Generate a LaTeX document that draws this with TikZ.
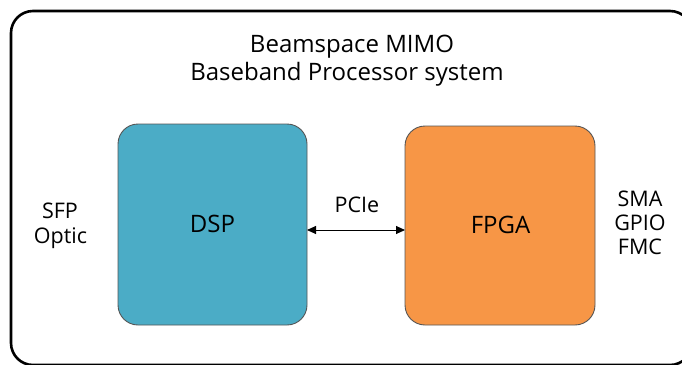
\documentclass[tikz,border=0pt]{standalone}
\usepackage{fontspec}
\setmainfont{Open Sans}
\usetikzlibrary{arrows.meta}
\definecolor{dspcol}{HTML}{4BACC6}
\definecolor{fpgacol}{HTML}{F79646}
\definecolor{edgecol}{HTML}{555555}
\begin{document}
\begin{tikzpicture}[x=1pt,y=-1pt,
  block/.style={draw=edgecol,line width=0.9pt,rounded corners=20pt},
  lbl/.style={anchor=base,inner sep=0pt,font=\fontsize{21.5}{26}\selectfont},
  big/.style={anchor=base,inner sep=0pt,font=\fontsize{24}{28}\selectfont},
  ttl/.style={anchor=base,inner sep=0pt,font=\fontsize{24}{28}\selectfont}]
\useasboundingbox (0,0) rectangle (682,364);
\draw[line width=2.6pt,rounded corners=22pt] (11,11) rectangle (692,365);
\node[ttl] (t1) at (352,52.5) {Beamspace MIMO};
\node[ttl] (t2) at (347,80.5) {Baseband Processor system};
\path[block,fill=dspcol] (118,124) rectangle (307,325);
\path[block,fill=fpgacol] (405,126) rectangle (595,325);
\coordinate (dspR) at (307,230);
\coordinate (fpgaL) at (405,230);
\node[big] (dsp) at (212.5,232) {DSP};
\node[big] (fpga) at (500.5,233) {FPGA};
\node[lbl] (pcie) at (357,212.5) {PCIe};
\draw[line width=0.9pt,{Triangle[length=9pt,width=8pt]}-{Triangle[length=9pt,width=8pt]}] (dspR) -- (fpgaL);
\node[lbl] (sfp) at (60,218) {SFP};
\node[lbl] (optic) at (60.5,243) {Optic};
\node[lbl] (sma) at (640,206.5) {SMA};
\node[lbl] (gpio) at (640,230) {GPIO};
\node[lbl] (fmc) at (640,254) {FMC};
\end{tikzpicture}
\end{document}
